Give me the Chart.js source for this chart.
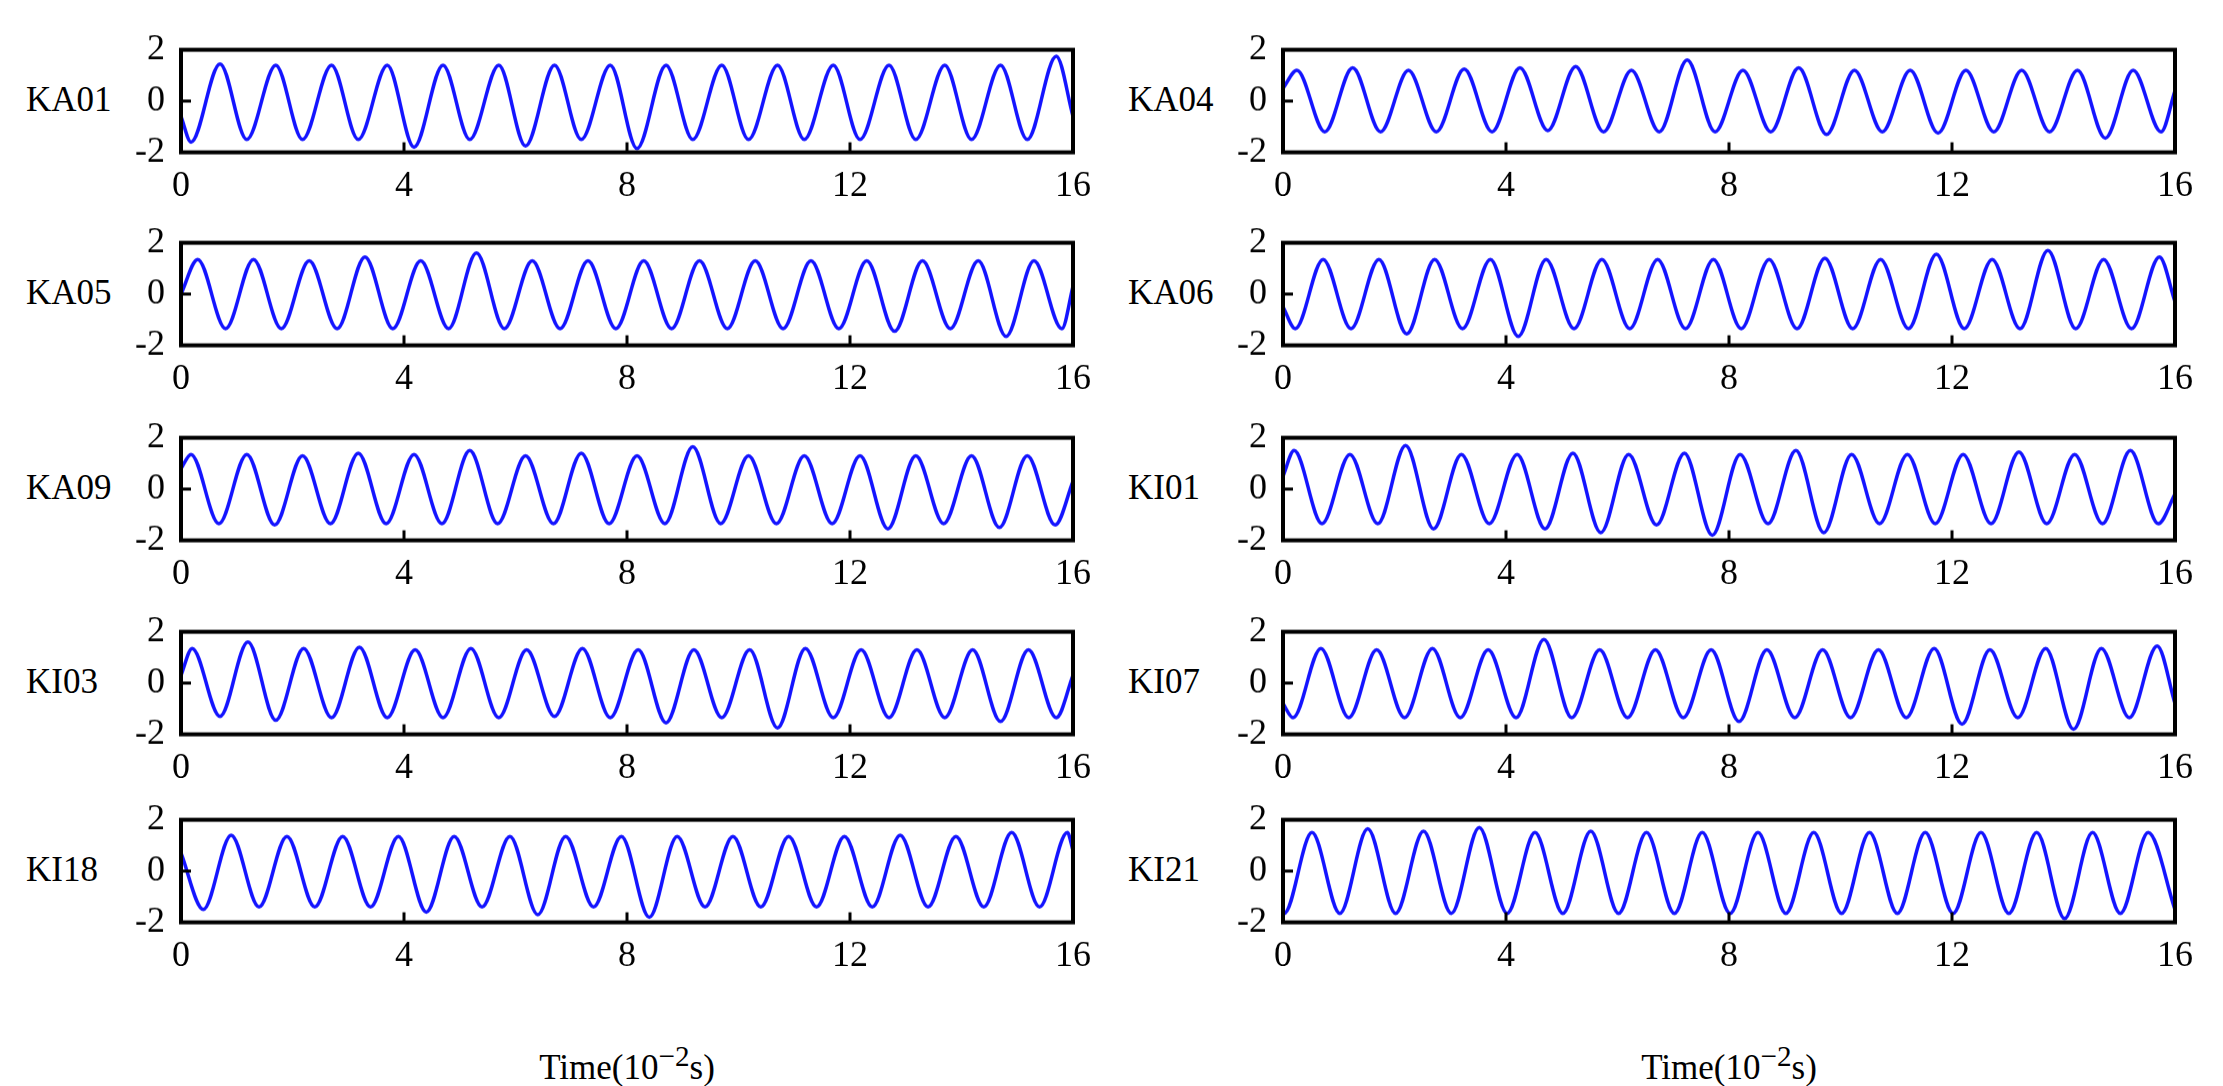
<!DOCTYPE html>
<html>
<head>
<meta charset="utf-8">
<script src="https://cdn.jsdelivr.net/npm/chart.js@4.4.1/dist/chart.umd.min.js"></script>
<style>
  body { margin: 0; background: #fff; width: 2223px; height: 1086px; position: relative; overflow: hidden; font-family: "Liberation Serif", "DejaVu Serif", serif; }
  .panel { position: absolute; }
  .name { position: absolute; font-size: 35px; color: #000; }
  .xlabel { position: absolute; font-size: 35px; color: #000; transform: translateX(-50%); white-space: nowrap; }
</style>
</head>
<body>
<script>
// cycle index shared by every panel (period ~1 x 10^-2 s)
var cycles = [0, 1, 2, 3, 4, 5, 6, 7, 8, 9, 10, 11, 12, 13, 14, 15];

var names = ['KA01', 'KA04', 'KA05', 'KA06', 'KA09', 'KI01', 'KI03', 'KI07', 'KI18', 'KI21'];
// time of first peak and first trough in each panel
var peakPhase = [0.70, 0.25, 0.30, 0.72, 0.18, 0.20, 0.20, 0.68, 0.90, 0.52];
var troughPhase = [0.18, 0.75, 0.80, 0.22, 0.68, 0.70, 0.70, 0.18, 0.40, 0.02];
// value at t=0 and t=16
var startVals = [-0.6, 0.5, 0.0, -0.5, 0.8, 0.5, 0.3, -0.8, 0.7, -1.6];
var endVals = [-0.6, 0.4, 0.3, -0.3, 0.3, -0.2, 0.3, -0.8, 0.8, -1.5];

var peaks = [
  [1.45, 1.4, 1.4, 1.4, 1.4, 1.4, 1.4, 1.4, 1.4, 1.4, 1.4, 1.4, 1.4, 1.4, 1.4, 1.75],
  [1.2, 1.3, 1.2, 1.25, 1.3, 1.35, 1.2, 1.6, 1.2, 1.3, 1.2, 1.2, 1.2, 1.2, 1.2, 1.2],
  [1.35, 1.35, 1.3, 1.45, 1.3, 1.6, 1.3, 1.3, 1.3, 1.3, 1.3, 1.3, 1.3, 1.3, 1.3, 1.3],
  [1.35, 1.35, 1.35, 1.35, 1.35, 1.35, 1.35, 1.35, 1.35, 1.4, 1.35, 1.55, 1.35, 1.7, 1.35, 1.45],
  [1.35, 1.35, 1.3, 1.4, 1.35, 1.5, 1.3, 1.4, 1.3, 1.65, 1.3, 1.3, 1.3, 1.3, 1.3, 1.3],
  [1.5, 1.35, 1.7, 1.35, 1.35, 1.4, 1.35, 1.4, 1.35, 1.5, 1.35, 1.35, 1.35, 1.45, 1.35, 1.5],
  [1.35, 1.6, 1.35, 1.4, 1.3, 1.35, 1.3, 1.35, 1.3, 1.3, 1.3, 1.35, 1.3, 1.3, 1.3, 1.3],
  [1.35, 1.3, 1.35, 1.3, 1.7, 1.3, 1.3, 1.3, 1.3, 1.3, 1.3, 1.35, 1.3, 1.35, 1.35, 1.45],
  [1.4, 1.35, 1.35, 1.35, 1.35, 1.35, 1.35, 1.35, 1.35, 1.35, 1.35, 1.35, 1.4, 1.35, 1.5, 1.5],
  [1.5, 1.65, 1.55, 1.7, 1.5, 1.55, 1.5, 1.5, 1.5, 1.5, 1.5, 1.5, 1.5, 1.5, 1.5, 1.5]
];
var troughs = [
  [-1.6, -1.5, -1.5, -1.5, -1.8, -1.5, -1.75, -1.5, -1.85, -1.5, -1.5, -1.5, -1.5, -1.5, -1.5, -1.5],
  [-1.2, -1.2, -1.2, -1.2, -1.15, -1.2, -1.2, -1.2, -1.2, -1.3, -1.2, -1.25, -1.2, -1.2, -1.45, -1.2],
  [-1.35, -1.35, -1.35, -1.35, -1.35, -1.35, -1.35, -1.35, -1.35, -1.35, -1.35, -1.35, -1.45, -1.35, -1.65, -1.35],
  [-1.35, -1.35, -1.55, -1.35, -1.65, -1.35, -1.35, -1.35, -1.35, -1.35, -1.35, -1.35, -1.35, -1.35, -1.35, -1.35],
  [-1.35, -1.4, -1.35, -1.35, -1.35, -1.35, -1.35, -1.35, -1.35, -1.35, -1.35, -1.35, -1.55, -1.35, -1.5, -1.4],
  [-1.35, -1.35, -1.55, -1.35, -1.55, -1.7, -1.4, -1.8, -1.35, -1.7, -1.35, -1.35, -1.35, -1.35, -1.35, -1.35],
  [-1.3, -1.45, -1.35, -1.35, -1.35, -1.35, -1.3, -1.35, -1.55, -1.35, -1.75, -1.35, -1.35, -1.35, -1.5, -1.35],
  [-1.35, -1.35, -1.35, -1.35, -1.35, -1.35, -1.35, -1.35, -1.5, -1.35, -1.35, -1.35, -1.6, -1.35, -1.8, -1.35],
  [-1.5, -1.4, -1.4, -1.4, -1.6, -1.4, -1.7, -1.4, -1.8, -1.4, -1.4, -1.4, -1.4, -1.4, -1.4, -1.4],
  [-1.65, -1.65, -1.65, -1.65, -1.65, -1.65, -1.65, -1.65, -1.65, -1.65, -1.65, -1.65, -1.65, -1.65, -1.85, -1.65]
];

var xTicks = [0, 4, 8, 12, 16];
var yTicks = [-2, 0, 2];

// layout in page pixels (wanted plot-area boxes)
var colLeft = [181, 1283];
var plotW = 892;
var rowTop = [50, 243, 438, 632, 820];
var plotH = 102;
var yAxisW = 58, xAxisH = 52, padR = 28;

function buildPoints(i) {
  var pts = [{ x: 0, y: startVals[i] }];
  cycles.forEach(function (c) {
    var tp = peakPhase[i] + c, tt = troughPhase[i] + c;
    if (tp < 16) pts.push({ x: tp, y: peaks[i][c] });
    if (tt < 16) pts.push({ x: tt, y: troughs[i][c] });
  });
  pts.sort(function (a, b) { return a.x - b.x; });
  pts.push({ x: 16, y: endVals[i] });
  return pts;
}

var frame = {
  id: 'frame',
  afterDraw: function (chart) {
    var a = chart.chartArea, ctx = chart.ctx;
    var xs = chart.scales.x, ys = chart.scales.y;
    ctx.save();
    ctx.strokeStyle = '#000';
    ctx.lineWidth = 3;
    [4, 8, 12].forEach(function (v) {
      var px = xs.getPixelForValue(v);
      ctx.beginPath(); ctx.moveTo(px, a.bottom); ctx.lineTo(px, a.bottom - 10); ctx.stroke();
    });
    var py = ys.getPixelForValue(0);
    ctx.beginPath(); ctx.moveTo(a.left, py); ctx.lineTo(a.left + 10, py); ctx.stroke();
    ctx.lineWidth = 4;
    ctx.strokeRect(a.left, a.top, a.right - a.left, a.bottom - a.top);
    ctx.restore();
  }
};

names.forEach(function (name, i) {
  var col = i % 2, row = Math.floor(i / 2);
  var left = colLeft[col] - yAxisW, top = rowTop[row] - 20;
  var w = yAxisW + plotW + padR, h = plotH + xAxisH + 20;
  var div = document.createElement('div');
  div.className = 'panel';
  div.style.left = left + 'px';
  div.style.top = top + 'px';
  div.style.width = w + 'px';
  div.style.height = h + 'px';
  var cv = document.createElement('canvas');
  div.appendChild(cv);
  document.body.appendChild(div);

  var lab = document.createElement('div');
  lab.className = 'name';
  lab.textContent = name;
  lab.style.left = (colLeft[col] - 155) + 'px';
  lab.style.top = (rowTop[row] + plotH / 2 - 21) + 'px';
  document.body.appendChild(lab);

  var chart = new Chart(cv, {
    type: 'line',
    data: {
      datasets: [{
        data: buildPoints(i),
        borderColor: '#1414ff',
        borderWidth: 3.5,
        pointRadius: 0,
        cubicInterpolationMode: 'monotone'
      }]
    },
    options: {
      animation: false,
      responsive: true,
      maintainAspectRatio: false,
      layout: { padding: 0 },
      plugins: { legend: { display: false }, tooltip: { enabled: false } },
      scales: {
        x: {
          type: 'linear', min: 0, max: 16,
          afterBuildTicks: function (s) { s.ticks = xTicks.map(function (v) { return { value: v }; }); },
          afterFit: function (s) { s.height = xAxisH; },
          grid: { display: false },
          border: { display: false },
          ticks: { color: '#000', padding: 4, font: { family: 'Liberation Serif', size: 36 }, maxRotation: 0 }
        },
        y: {
          min: -2, max: 2,
          afterBuildTicks: function (s) { s.ticks = yTicks.map(function (v) { return { value: v }; }); },
          afterFit: function (s) { s.width = yAxisW; },
          grid: { display: false },
          border: { display: false },
          ticks: { color: '#000', padding: 8, font: { family: 'Liberation Serif', size: 36 } }
        }
      }
    },
    plugins: [frame]
  });

  // shift/resize so the plot area lands on the wanted box
  var a = chart.chartArea;
  var nl = left + (colLeft[col] - (left + a.left));
  var nt = top + (rowTop[row] - (top + a.top));
  var nw = w + (plotW - (a.right - a.left));
  var nh = h + (plotH - (a.bottom - a.top));
  div.style.left = nl + 'px';
  div.style.top = nt + 'px';
  div.style.width = nw + 'px';
  div.style.height = nh + 'px';
  chart.resize(nw, nh);
});

['Time(10<sup>−2</sup>s)', 'Time(10<sup>−2</sup>s)'].forEach(function (t, c) {
  var d = document.createElement('div');
  d.className = 'xlabel';
  d.innerHTML = t;
  d.style.left = (colLeft[c] + plotW / 2) + 'px';
  d.style.top = '1040px';
  document.body.appendChild(d);
});
</script>
</body>
</html>
